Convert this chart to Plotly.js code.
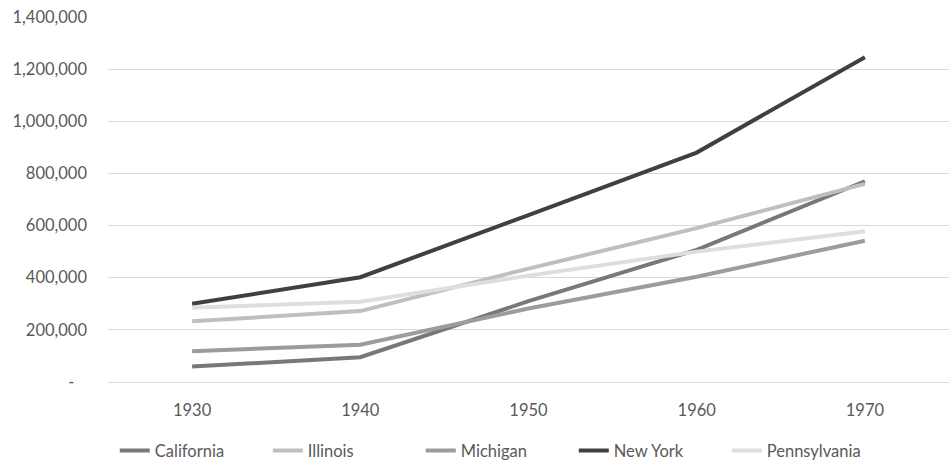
<!DOCTYPE html>
<html>
<head>
<meta charset="utf-8">
<script src="https://cdn.plot.ly/plotly-3.0.1.min.js"></script>
<style>html,body{margin:0;padding:0;background:#fff;}#chart{width:949px;height:460px;}</style>
</head>
<body>
<div id="chart"></div>
<script>
const years = ["1930", "1940", "1950", "1960", "1970"];
const california = [59000, 95000, 310000, 507000, 770000];
const illinois = [233000, 272000, 435000, 590000, 760000];
const michigan = [118000, 143000, 282000, 404000, 542000];
const newYork = [300000, 402000, 640000, 880000, 1246000];
const pennsylvania = [285000, 308000, 408000, 500000, 578000];
const seriesNames = ["California", "Illinois", "Michigan", "New York", "Pennsylvania"];
const seriesColors = ["#787878", "#bfbfbf", "#9a9c9e", "#404040", "#dedede"];
const yTickVals = [0, 200000, 400000, 600000, 800000, 1000000, 1200000, 1400000];
const yTickText = ["-\u00a0\u00a0\u00a0", "200,000", "400,000", "600,000", "800,000", "1,000,000", "1,200,000", "1,400,000"];

const allSeries = [california, illinois, michigan, newYork, pennsylvania];
const traces = allSeries.map((vals, i) => ({
  type: "scatter",
  mode: "lines",
  x: years,
  y: vals,
  name: seriesNames[i],
  line: {color: seriesColors[i], width: 4},
  hoverinfo: "x+y+name"
}));

const font = {family: "Lato, 'Open Sans', sans-serif", size: 16.5, color: "#595959"};

const layout = {
  width: 949,
  height: 460,
  margin: {l: 108, r: 0, t: 17, b: 78, autoexpand: false},
  paper_bgcolor: "#ffffff",
  plot_bgcolor: "#ffffff",
  font: font,
  showlegend: true,
  legend: {
    orientation: "h",
    xref: "container", yref: "container",
    x: 0.524, xanchor: "center",
    y: 0.02, yanchor: "middle",
    font: font,
    traceorder: "normal",
    itemwidth: 30,
    entrywidth: 108,
    entrywidthmode: "pixels"
  },
  xaxis: {
    type: "category",
    range: [-0.5, 4.5],
    showgrid: false,
    zeroline: false,
    showline: false,
    ticks: "",
    tickfont: font,
    ticklabelstandoff: 16,
    automargin: false
  },
  yaxis: {
    range: [0, 1400000],
    tickvals: yTickVals,
    ticktext: yTickText,
    showgrid: true,
    gridcolor: "#d9d9d9",
    gridwidth: 1,
    zeroline: true,
    zerolinecolor: "#d9d9d9",
    zerolinewidth: 1,
    showline: false,
    ticks: "",
    tickfont: font,
    ticklabelstandoff: 20,
    automargin: false,
    fixedrange: true
  }
};

Plotly.newPlot("chart", traces, layout, {displayModeBar: false, staticPlot: true});
</script>
</body>
</html>
